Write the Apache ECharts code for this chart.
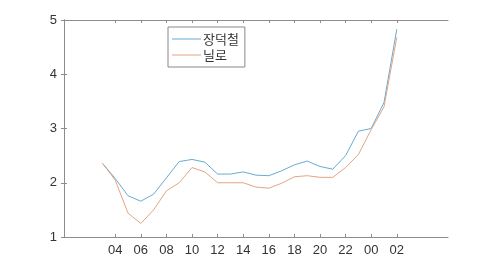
<!DOCTYPE html>
<html><head><meta charset="utf-8">
<script src="https://cdn.jsdelivr.net/npm/echarts@6/dist/echarts.min.js"></script>
<style>html,body{margin:0;padding:0;background:#fff}#c{width:496px;height:264px}</style>
</head><body><div id="c"></div>
<script>
// hour positions: 03..23, then 00,01,02 continue as 24,25,26
const hours = [3,4,5,6,7,8,9,10,11,12,13,14,15,16,17,18,19,20,21,22,23,24,25,26];
const tickHours = [4,6,8,10,12,14,16,18,20,22,24,26];
const tickLabels = ['04','06','08','10','12','14','16','18','20','22','00','02'];
const yTicks = [1,2,3,4,5];
const seriesNames = ['장덕철','닐로'];
const jangdeokcheol = [2.36,2.08,1.76,1.66,1.79,2.09,2.39,2.43,2.38,2.16,2.16,2.20,2.14,2.13,2.22,2.33,2.40,2.30,2.25,2.50,2.95,3.00,3.48,4.83];
const nilo = [2.36,2.05,1.44,1.25,1.50,1.85,2.00,2.28,2.20,2.00,2.00,2.00,1.92,1.90,1.99,2.11,2.13,2.10,2.10,2.28,2.52,2.98,3.40,4.68];

const axisGray = '#8c8c8c';
const font = '"Liberation Sans", Arial, sans-serif';
function mkX(pos, showLabel){
  return {type:'value', position:pos, min:0, max:30, gridIndex:0,
    axisLine:{show:true, lineStyle:{color:axisGray,width:1}},
    axisTick:{show:true, inside:true, length:3, customValues:tickHours, lineStyle:{color:axisGray}},
    axisLabel:{show:showLabel, customValues:tickHours, margin:7, color:'#333', fontSize:13, fontFamily:font,
      formatter:v=>tickLabels[tickHours.indexOf(v)]},
    splitLine:{show:false}};
}
function mkY(pos, showLabel){
  return {type:'value', position:pos, min:1, max:5, interval:1,
    axisLine:{show:true, lineStyle:{color:axisGray,width:1}},
    axisTick:{show:true, inside:true, length:3, lineStyle:{color:axisGray}},
    axisLabel:{show:showLabel, margin:7, color:'#333', fontSize:13, fontFamily:font},
    splitLine:{show:false}};
}
const chart = echarts.init(document.getElementById('c'), null, {renderer:'canvas'});
chart.setOption({
  animation:false,
  backgroundColor:'#fff',
  grid:{left:64, right:48, top:20, bottom:27},
  xAxis:[mkX('bottom',true), mkX('top',false)],
  yAxis:[mkY('left',true), mkY('right',false)],
  legend:{orient:'vertical', left:168, top:27, padding:[5,6,5,4], itemGap:2,
    icon:'rect', itemWidth:29, itemHeight:1, borderColor:'#888', borderWidth:1, backgroundColor:'#fff',
    textStyle:{fontSize:13, lineHeight:14, color:'#333', fontFamily:'"Noto Sans CJK KR", sans-serif', padding:[0,0,0,-3]},
    data:seriesNames},
  series:[
    {name:seriesNames[0], type:'line', showSymbol:false, symbol:'none', xAxisIndex:0, yAxisIndex:0,
      lineStyle:{color:'#69abd3', width:1}, itemStyle:{color:'#69abd3'},
      data:hours.map((h,i)=>[h,jangdeokcheol[i]])},
    {name:seriesNames[1], type:'line', showSymbol:false, symbol:'none', xAxisIndex:0, yAxisIndex:0,
      lineStyle:{color:'#e3a585', width:1}, itemStyle:{color:'#e3a585'},
      data:hours.map((h,i)=>[h,nilo[i]])}
  ]
});
</script></body></html>
